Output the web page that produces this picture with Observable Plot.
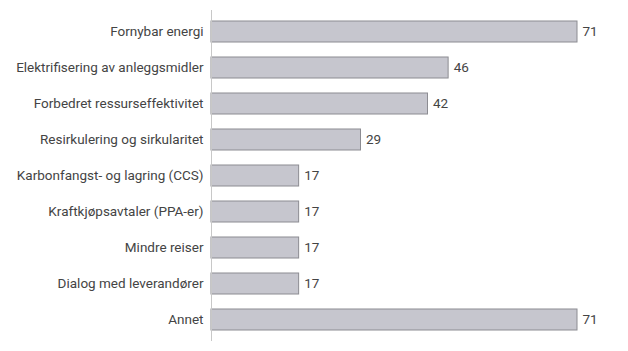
<!DOCTYPE html>
<html>
<head>
<meta charset="utf-8">
<script src="https://cdn.jsdelivr.net/npm/d3@7"></script>
<script src="https://cdn.jsdelivr.net/npm/@observablehq/plot@0.6"></script>
<style>
  html, body { margin: 0; padding: 0; background: #fff; }
  svg { display: block; }
</style>
</head>
<body>
<div id="chart"></div>
<script>
const categories = [
  "Fornybar energi",
  "Elektrifisering av anleggsmidler",
  "Forbedret ressurseffektivitet",
  "Resirkulering og sirkularitet",
  "Karbonfangst- og lagring (CCS)",
  "Kraftkjøpsavtaler (PPA-er)",
  "Mindre reiser",
  "Dialog med leverandører",
  "Annet"
];
const values = [71, 46, 42, 29, 17, 17, 17, 17, 71];

const data = categories.map((c, i) => ({category: c, value: values[i]}));

const chart = Plot.plot({
  width: 628,
  height: 351,
  marginLeft: 211,
  marginRight: 51,
  marginTop: 10,
  marginBottom: 10,
  style: {fontFamily: "Roboto, sans-serif", fontSize: "13.5px", color: "#444", background: "#fff"},
  x: {domain: [0, 71], axis: null},
  y: {domain: categories, paddingInner: 0.423, paddingOuter: 0.25, label: null},
  marks: [
    Plot.barX(data, {x: "value", y: "category", fill: "#c6c6ce", stroke: "#8c8c92", strokeWidth: 1}),
    Plot.ruleX([0], {stroke: "#c8c8c8", strokeWidth: 1}),
    Plot.text(data, {x: "value", y: "category", text: d => String(d.value), textAnchor: "start", dx: 5, fill: "#444", fontSize: 13.5}),
    Plot.axisY({tickSize: 0, tickPadding: 8, fontSize: 13.5, fill: "#444", label: null})
  ]
});
document.getElementById("chart").appendChild(chart);
</script>
</body>
</html>
